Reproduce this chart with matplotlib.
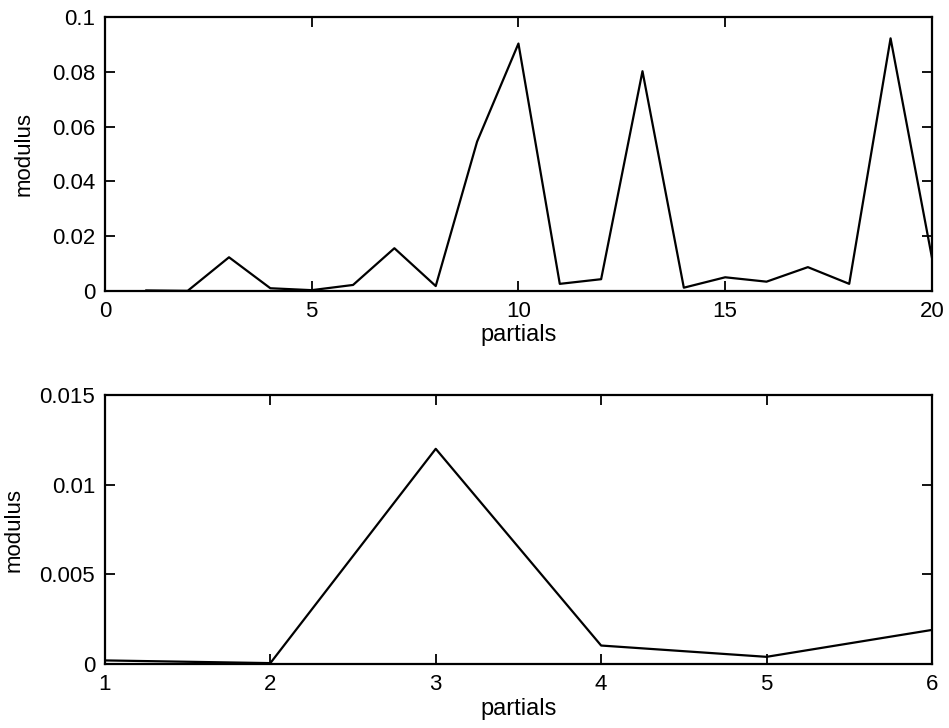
import numpy as np
import matplotlib.pyplot as plt

plt.rcParams['font.family'] = ['Liberation Sans', 'DejaVu Sans']

# Modulus of each partial
partials = np.arange(1, 21)
modulus = [0.0002, 0.00005, 0.0123, 0.001, 0.0003, 0.0022, 0.0156, 0.0018, 0.0545, 0.0903,
           0.0026, 0.0043, 0.0802, 0.0012, 0.0050, 0.0034, 0.0087, 0.0026, 0.0922, 0.0122]

# Zoom on the first six partials
partials_zoom = np.arange(1, 7)
modulus_zoom = [0.0002, 0.00005, 0.0120, 0.00103, 0.0004, 0.0019]

fig = plt.figure(figsize=(9.49, 7.28), dpi=100)

ax1 = fig.add_axes([0.1106, 0.6003, 0.8714, 0.3764])
ax1.plot(partials, modulus, color='black', linewidth=1.6)
ax1.set_xlim(0, 20)
ax1.set_ylim(0, 0.1)
ax1.set_xticks([0, 5, 10, 15, 20])
ax1.set_yticks([0, 0.02, 0.04, 0.06, 0.08, 0.1])
ax1.set_yticklabels(['0', '0.02', '0.04', '0.06', '0.08', '0.1'])
ax1.set_xlabel('partials', fontsize=17, labelpad=2)
ax1.set_ylabel('modulus', fontsize=16)
ax1.yaxis.set_label_coords(-0.085, 0.5)

ax2 = fig.add_axes([0.1106, 0.0879, 0.8714, 0.3695])
ax2.plot(partials_zoom, modulus_zoom, color='black', linewidth=1.6)
ax2.set_xlim(1, 6)
ax2.set_ylim(0, 0.015)
ax2.set_xticks([1, 2, 3, 4, 5, 6])
ax2.set_yticks([0, 0.005, 0.01, 0.015])
ax2.set_yticklabels(['0', '0.005', '0.01', '0.015'])
ax2.set_xlabel('partials', fontsize=17, labelpad=2)
ax2.set_ylabel('modulus', fontsize=16)
ax2.yaxis.set_label_coords(-0.097, 0.5)

for ax in (ax1, ax2):
    ax.tick_params(direction='in', top=True, right=True, length=7, width=1.3,
                   labelsize=16, pad=7)
    for s in ax.spines.values():
        s.set_linewidth(1.6)

fig.savefig('out.png', dpi=100)
